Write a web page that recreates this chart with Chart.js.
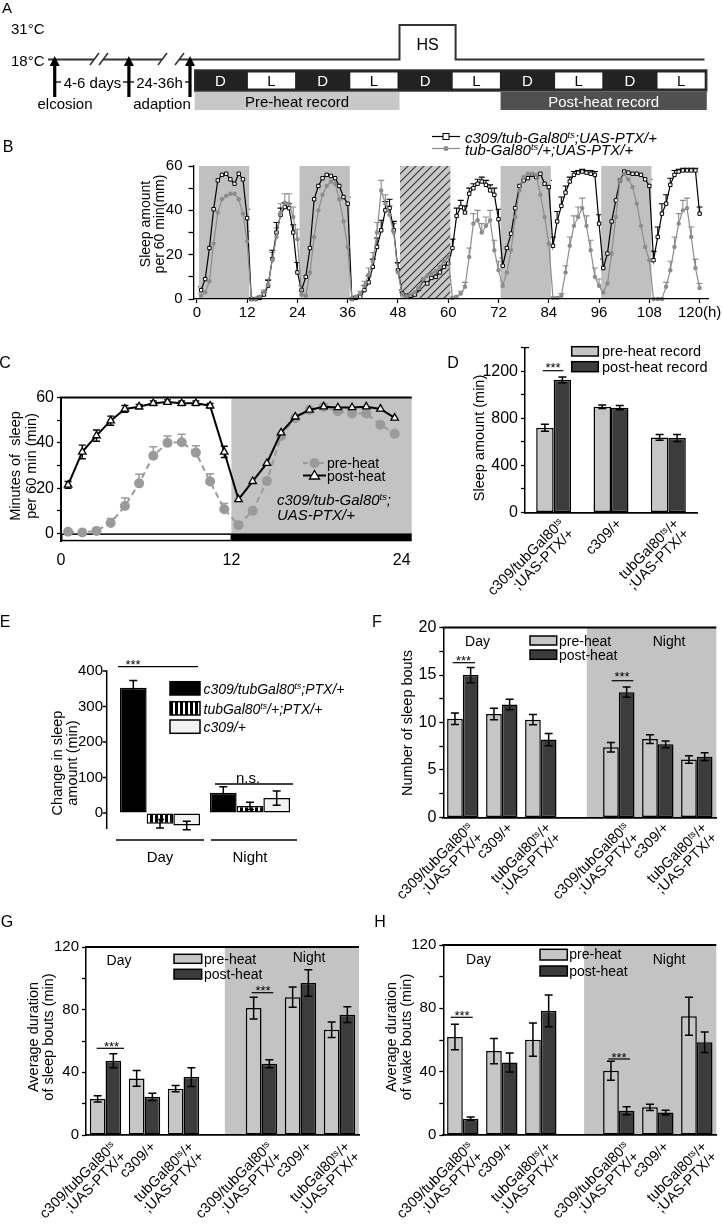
<!DOCTYPE html>
<html>
<head>
<meta charset="utf-8">
<title>Sleep figure</title>
<script src="https://cdn.jsdelivr.net/npm/chart.js@4.4.1/dist/chart.umd.min.js"></script>
<style>
html,body{margin:0;padding:0;background:#fff;}
#root{position:relative;width:723px;height:1230px;overflow:hidden;background:#fff;font-family:"Liberation Sans",Arial,Helvetica,sans-serif;color:#000;}
#root canvas{position:absolute;z-index:0;}
#ov{position:absolute;left:0;top:0;z-index:1;pointer-events:none;}
.t{position:absolute;white-space:nowrap;line-height:1;z-index:2;}
.t sup{font-size:0.62em;line-height:0;vertical-align:0;position:relative;top:-0.5em;}
</style>
</head>
<body>
<div id="root"></div>
<script>
// ================= DATA =================
// Panel B : hourly sleep over 120 h
const bHours = Array.from({length:120},(_,i)=>i+1);
const bC309PTX = [4,9,23,40.5,53.5,56,56.5,54,52,56.5,54,36.5,
 0,0,0.5,2,6,18,30,38,41.5,41,30,12,
 4,10,23,45,51,54.5,56,55.5,54.5,51,46,43,
 0,0.5,1,4,7.5,14.5,23.5,31,40,41,31,13,
 2.5,1.5,1.5,2,4.5,8.5,7,9.5,10,12,14.5,16,
 23,37.5,41.5,39,47.5,50,52,53,51.5,49,47,36,
 15,23,29.5,41,51,53.5,54.5,56,55,56.5,52,50.5,
 24,35,42,48,53,56,57,57.5,57,56.5,56,34,
 14,20.5,35,44.5,53.5,57.5,57,56.5,56.5,56,54,51,
 17.5,28,38.5,43,51.5,56,57.5,58,58,58,58,38.5];
const bC309PTXErr = [1.5,3,4.5,4,2.5,1.5,1.5,1.5,2,1.5,2,4,
 0.3,0.3,0.5,1,2.5,4,4.5,3,2,2,3.5,4.5,
 2,3,4.5,3.5,2.5,2,1.5,1.5,2,2.5,3,3,
 0.3,0.5,1,2,3,3.5,4,4.5,4,4,4,3.5,
 1.5,1,1,1.5,2,3,2.5,2.5,2.5,3,3,3.5,
 4,3.5,3,3,2.5,2,2,2,2,2.5,3,4.5,
 3.5,4,4.5,4,3,2,2,1.5,1.5,1.5,2.5,3,
 4,4.5,4,3,2,1.5,1,1,1,1.5,1.5,4,
 4,5,5,4,3,1.5,1.5,1.5,1.5,1.5,2,3,
 4,4.5,4.5,4,3,2,1,1,1,1,1,3];
const bTubPTX = [1.5,3,8,25,39,45,46.5,47.5,47.5,45,38.5,26,
 0,0,1,3,6.5,17.5,28,39,43.5,43,37,27,
 2,1.5,12,28,40,47,51,53,52,45,35,23.5,
 0,1,2.5,6,11,17,30,49,43,38,30,12,
 2,1,2,3,5,9,10.5,11.5,12.5,14.5,17,19,
 0.5,1,2.5,5.5,19,34,35.5,30,33,35.5,22,13,
 6,12,22,37,49,55,56.5,56.5,56,47,37,25,
 0.5,0.5,1.5,12,24,33,37,41,33,22,10,6,
 3,7,20.5,37,53.5,56.5,54,50.5,43,33,23.5,17.5,
 0,0,0,5.5,13,23.5,34,40,41,28,14,5];
const bTubPTXErr = [1,1.5,3,4,4,3.5,3,3,3,3.5,4,4.5,
 0.3,0.3,0.5,1,2,3.5,4,4,4,4.5,4.5,4.5,
 1.5,1,3,4,4,3.5,3,3,3,3.5,4,4.5,
 0.3,0.5,1,2,3,4,4.5,4.5,4,4,4,4,
 1,0.5,1,1.5,2,3,3,3,3,3.5,4,4,
 0.3,0.5,1,2,4,4.5,4.5,4,4,4.5,4.5,4,
 2,3,4,4.5,4,3,2.5,2.5,3,4,4.5,4.5,
 0.3,0.3,1,3,4,4.5,4.5,4.5,4.5,4.5,4,3,
 1.5,3,4.5,4.5,3.5,2.5,3,3.5,4,4.5,4.5,4.5,
 0.3,0.3,0.3,2,4,4.5,4.5,4.5,4.5,4.5,4,2];
const bDarkPeriods = [[0.5,12.5],[24.5,36.5],[72.5,84.5],[96.5,108.5]];
const bHeatPeriod = [48.5,60.5];
const bXTicks = [0,12,24,36,48,60,72,84,96,108,120];
const bYTicks = [0,10,20,30,40,50,60];
const bYLabels = [0,20,40,60];

// Panel C : 24 h profile of c309/tub-Gal80ts;UAS-PTX/+
const cHours = [0.5,1.5,2.5,3.5,4.5,5.5,6.5,7.5,8.5,9.5,10.5,11.5,12.5,13.5,14.5,15.5,16.5,17.5,18.5,19.5,20.5,21.5,22.5,23.5];
const cPreHeat = [0.7,0.4,1.1,4.6,12.1,22.1,34.3,40,40.3,35.7,22.9,10.7,3.6,10,23.1,43,51,54.5,56,54,53,53,48,44];
const cPreErr = [0.5,0.5,1,2,3.5,4,4,3,3.5,3,3.5,2.5,1.5,3,4,4,3,2.5,2.5,2,2,2.5,3,3];
const cPostHeat = [21.4,36,43.2,49.8,55,56,57.5,58,57.5,57.5,56.4,36,15,23,31,44.5,51.5,54.5,56,55.6,55.6,56,55,51];
const cPostErr = [1.5,3,2.5,2,1.5,1,1,1,1,1,1,2.5,2,3,3,2.5,2,1.5,1.5,1.5,1.5,1.5,1.5,2];
const cXTicks = [0,12,24];
const cYTicks = [0,10,20,30,40,50,60];
const cYLabels = [0,20,40,60];

// Genotype labels
const genotypes = ['c309/tubGal80<sup>ts</sup><br>;UAS-PTX/+','c309/+','tubGal80<sup>ts</sup>/+<br>;UAS-PTX/+'];

// Panel D : total sleep
const dPre = [719,898,637];
const dPreErr = [30,15,25];
const dPost = [1126,890,632];
const dPostErr = [25,18,30];
const dYTicks = [0,200,400,600,800,1000,1200,1400];
const dYLabels = [0,400,800,1200];

// Panel E : change in sleep amount
const ePeriods = ['Day','Night'];
const eC309PTX = [353,57];
const eC309PTXErr = [20,17];
const eTubPTX = [-30,20];
const eTubPTXErr = [12,10];
const eC309 = [-35,42];
const eC309Err = [12,20];
const eYTicks = [0,100,200,300,400];

// Panels F, G, H : day groups, gap, night groups
const fghGroups = [genotypes[0],genotypes[1],genotypes[2],'',genotypes[0],genotypes[1],genotypes[2]];
const fPre = [10.4,10.9,10.3,null,7.4,8.25,6.1];
const fPreErr = [0.6,0.6,0.55,null,0.5,0.45,0.4];
const fPost = [15.0,11.9,8.2,null,13.2,7.7,6.4];
const fPostErr = [0.8,0.55,0.65,null,0.55,0.35,0.4];
const fYTicks = [0,2.5,5,7.5,10,12.5,15,17.5,20];
const fYLabels = [0,5,10,15,20];

const gPre = [23,36.1,29.6,null,81,88,67.2];
const gPreErr = [2,5,2,null,7,6.5,5];
const gPost = [47.4,24.4,37,null,45.5,97,76.8];
const gPostErr = [4.5,2.3,6,null,2.5,8.5,5];

const hPre = [61.9,53,60.2,null,40.6,17.5,75];
const hPreErr = [8,8,10.5,null,6,2,12];
const hPost = [10.3,45.8,78.4,null,15.3,14.2,58.6];
const hPostErr = [1,6,10,null,2.5,1.5,6.5];
const ghYTicks = [0,20,40,60,80,100,120];
const ghYLabels = [0,40,80,120];

// ================= HELPERS =================
const FONT = '"Liberation Sans", Arial, Helvetica, sans-serif';
Chart.defaults.font.family = FONT;
Chart.defaults.color = '#000';
const PRE = '#c6c6c6', POST = '#3c3c3c', SHADE = '#c3c3c3';
const root = document.getElementById('root');
const ov = [];

function txt(html,x,y,o={}){
  const d=document.createElement('div'); d.className='t'; d.innerHTML=html;
  d.style.fontSize=(o.size||15)+'px';
  if(o.italic) d.style.fontStyle='italic';
  if(o.color) d.style.color=o.color;
  if(o.lh) d.style.lineHeight=o.lh+'px';
  d.style.textAlign=o.align||'center';
  d.style.left=x+'px'; d.style.top=y+'px';
  const ax=(o.ax===undefined?0.5:o.ax), ay=(o.ay===undefined?0.5:o.ay);
  d.style.transform=`translate(${-ax*100}%,${-ay*100}%)`+(o.rot?` rotate(${o.rot}deg)`:'');
  root.appendChild(d); return d;
}
function xlab(html,x,y,size){
  const d=document.createElement('div'); d.className='t'; d.innerHTML=html;
  d.style.fontSize=size+'px'; d.style.lineHeight=(size-0.5)+'px'; d.style.textAlign='right';
  d.style.right=(723-x)+'px'; d.style.top=y+'px';
  d.style.transformOrigin='100% 0'; d.style.transform='rotate(-45deg)';
  root.appendChild(d); return d;
}
function L(x1,y1,x2,y2,c='#000',w=1.5,dash=''){ov.push(`<line x1="${x1}" y1="${y1}" x2="${x2}" y2="${y2}" stroke="${c}" stroke-width="${w}"${dash?` stroke-dasharray="${dash}"`:''}/>`);}
function R(x,y,w,h,fill,stroke='#000',sw=1.5){ov.push(`<rect x="${x}" y="${y}" width="${w}" height="${h}" fill="${fill}" stroke="${stroke}" stroke-width="${sw}"/>`);}
function Ci(cx,cy,r,fill,stroke='none',sw=0){ov.push(`<circle cx="${cx}" cy="${cy}" r="${r}" fill="${fill}" stroke="${stroke}" stroke-width="${sw}"/>`);}
function P(pts,fill,stroke='none',sw=0){ov.push(`<polygon points="${pts}" fill="${fill}" stroke="${stroke}" stroke-width="${sw}"/>`);}

// error bar plugin
function drawErr(chart){
  const ctx=chart.ctx, ys=chart.scales.y;
  chart.data.datasets.forEach((ds,di)=>{
    if(!ds.err) return;
    const meta=chart.getDatasetMeta(di);
    ctx.save(); ctx.strokeStyle=ds.errColor||'#000'; ctx.lineWidth=ds.errWidth||1.5;
    meta.data.forEach((el,i)=>{
      const raw=ds.data[i]; const val=(raw&&typeof raw==='object')?raw.y:raw; const e=ds.err[i];
      if(val==null||e==null) return;
      const x=el.x, cw=ds.capW||4;
      const sgn = val<0?-1:1;
      const yTop=ys.getPixelForValue(val+sgn*e), yBot=ys.getPixelForValue(ds.errUp?val:val-sgn*e);
      ctx.beginPath(); ctx.moveTo(x,yTop); ctx.lineTo(x,yBot);
      ctx.moveTo(x-cw,yTop); ctx.lineTo(x+cw,yTop);
      if(!ds.errUp){ctx.moveTo(x-cw,yBot); ctx.lineTo(x+cw,yBot);}
      ctx.stroke();
    });
    ctx.restore();
  });
}
Chart.register({id:'errbars',
  beforeDatasetsDraw(c){ if(c.config.type==='line') drawErr(c); },
  afterDatasetsDraw(c){ if(c.config.type!=='line') drawErr(c); }
});

function mk(box,area,cfg){
  const c=document.createElement('canvas');
  c.width=box[2]; c.height=box[3];
  c.style.left=box[0]+'px'; c.style.top=box[1]+'px';
  c.style.width=box[2]+'px'; c.style.height=box[3]+'px';
  root.appendChild(c);
  cfg.options=cfg.options||{};
  Object.assign(cfg.options,{responsive:false,maintainAspectRatio:false,animation:false,devicePixelRatio:1});
  cfg.options.layout={padding:{left:0,top:area.t-box[1],right:box[0]+box[2]-area.r,bottom:0}};
  const sc=cfg.options.scales;
  const yw=area.l-box[0], xh=box[1]+box[3]-area.b;
  sc.y.afterFit=s=>{s.width=yw;};
  sc.x.afterFit=s=>{s.height=xh;};
  cfg.options.plugins=Object.assign({legend:{display:false},tooltip:{enabled:false}},cfg.options.plugins||{});
  const ch=new Chart(c.getContext('2d'),cfg);
  ch._box=box;
  return ch;
}
function yAx(min,max,ticks,labels,size,o={}){
  return {min,max,
    afterBuildTicks:ax=>{ax.ticks=ticks.map(v=>({value:v}));},
    ticks:{font:{size},color:'#000',padding:(o.pad===undefined?3:o.pad),autoSkip:false,callback:v=>labels.includes(v)?String(v):''},
    grid:{drawOnChartArea:false,drawTicks:(o.noTicks?false:true),tickLength:(o.tl===undefined?4:o.tl),tickColor:'#000',tickWidth:1.3},
    border:{display:(o.noBorder?false:true),color:'#000',width:(o.bw||1.5),z:1}};
}
function xBar(){
  return {ticks:{display:false},grid:{display:true,drawOnChartArea:false,drawTicks:false},border:{display:true,color:'#000',width:1.8,z:1}};
}
function barDs(data,err,fill,cp){
  return {data,err,backgroundColor:fill,borderColor:'#000',borderWidth:1.5,borderSkipped:false,categoryPercentage:cp,barPercentage:1,capW:4};
}
function topLine(){
  return {id:'topline',afterDraw(c){const {ctx,chartArea:a}=c;ctx.save();ctx.strokeStyle='#000';ctx.lineWidth=2;ctx.beginPath();ctx.moveTo(a.left-1,a.top);ctx.lineTo(a.right,a.top);ctx.stroke();ctx.restore();}};
}
function nightPlugin(start){
  return {id:'night',beforeDatasetsDraw(c){
    const {ctx,chartArea:a,scales:{x}}=c;
    const p0=x.getPixelForValue(0), p1=x.getPixelForValue(1);
    const xs=p0+start*(p1-p0);
    ctx.save(); ctx.fillStyle=SHADE; ctx.fillRect(xs,a.top,a.right-xs,a.bottom-a.top); ctx.restore();
  }};
}
function groupLabels(chart,labels,dy,size){
  const x=chart.scales.x, bx=chart._box;
  labels.forEach((lab,i)=>{ if(!lab) return;
    xlab(lab, bx[0]+x.getPixelForValue(i)+3, chart.chartArea.bottom+bx[1]+dy, size); });
}

// ================= PANEL A (schematic) =================
const A=[];
A.push(`<text x="2" y="13" font-size="15">A</text>`);
A.push(`<text x="11" y="33.5" font-size="15">31°C</text>`);
A.push(`<text x="11" y="65.5" font-size="15">18°C</text>`);
A.push(`<polyline points="48,59.5 399.5,59.5 399.5,25 455.6,25 455.6,59.5 704.5,59.5" fill="none" stroke="#333" stroke-width="2"/>`);
A.push(`<text x="427.5" y="50" font-size="16" text-anchor="middle">HS</text>`);
[[90,99],[158,175]].forEach(([s1,s2])=>{
  A.push(`<rect x="${s1+4}" y="55" width="${s2-s1}" height="9" fill="#fff"/>`);
  A.push(`<line x1="${s1}" y1="65" x2="${s1+9}" y2="53" stroke="#333" stroke-width="1.5"/>`);
  A.push(`<line x1="${s2}" y1="65" x2="${s2+9}" y2="53" stroke="#333" stroke-width="1.5"/>`);
});
[54.7,128.9,190].forEach(x=>{
  A.push(`<rect x="${x-1.6}" y="63" width="3.2" height="34" fill="#000"/>`);
  A.push(`<polygon points="${x-5},66 ${x},56 ${x+5},66" fill="#000"/>`);
});
A.push(`<line x1="56" y1="82" x2="61" y2="82" stroke="#000" stroke-width="1.3"/>`);
A.push(`<line x1="123" y1="82" x2="128" y2="82" stroke="#000" stroke-width="1.3"/>`);
A.push(`<line x1="130" y1="82" x2="134" y2="82" stroke="#000" stroke-width="1.3"/>`);
A.push(`<line x1="185" y1="82" x2="189" y2="82" stroke="#000" stroke-width="1.3"/>`);
A.push(`<text x="92.5" y="87.5" font-size="15" text-anchor="middle">4-6 days</text>`);
A.push(`<text x="159.5" y="87.5" font-size="15" text-anchor="middle">24-36h</text>`);
A.push(`<text x="65" y="108.5" font-size="15" text-anchor="middle">elcosion</text>`);
A.push(`<text x="162" y="108.5" font-size="15" text-anchor="middle">adaption</text>`);
const aCells=['D','L','D','L','D','L','D','L','D','L'];
A.push(`<rect x="194.7" y="70" width="512" height="21" fill="#222" stroke="#333" stroke-width="1.5"/>`);
aCells.forEach((c,i)=>{
  const x=194.7+i*51.2;
  if(c==='L') A.push(`<rect x="${x+2}" y="72.5" width="${51.2-4}" height="16" fill="#fff"/>`);
  A.push(`<text x="${x+25.6}" y="86" font-size="15" text-anchor="middle" fill="${c==='D'?'#fff':'#000'}">${c}</text>`);
});
A.push(`<rect x="194.7" y="92" width="204.8" height="18" fill="#c8c8c8"/>`);
A.push(`<text x="297" y="106.5" font-size="15" text-anchor="middle">Pre-heat record</text>`);
A.push(`<rect x="500.6" y="92" width="206.2" height="18" fill="#505050"/>`);
A.push(`<text x="603.7" y="106.5" font-size="15" text-anchor="middle" fill="#fff">Post-heat record</text>`);

// ================= PANEL B =================
function hatchPattern(ctx){
  const t=document.createElement('canvas'); t.width=8; t.height=8; const g=t.getContext('2d');
  g.fillStyle='#c8c8c8'; g.fillRect(0,0,8,8);
  g.strokeStyle='#333'; g.lineWidth=1.1;
  g.beginPath(); g.moveTo(0,8); g.lineTo(8,0); g.moveTo(-1,1); g.lineTo(1,-1); g.moveTo(7,9); g.lineTo(9,7); g.stroke();
  return ctx.createPattern(t,'repeat');
}
const bChart = mk([120,150,603,175],{l:193.5,t:166,r:708,b:299},{
  type:'line',
  data:{datasets:[
    {data:bHours.map((h,i)=>({x:h,y:bTubPTX[i]})),err:bTubPTXErr,errUp:true,errColor:'#8c8c8c',capW:3,errWidth:1.1,
     borderColor:'#8c8c8c',borderWidth:1.2,pointRadius:2.2,pointBackgroundColor:'#8c8c8c',pointBorderWidth:0,tension:0,clip:false},
    {data:bHours.map((h,i)=>({x:h,y:bC309PTX[i]})),err:bC309PTXErr,errUp:true,errColor:'#000',capW:3,errWidth:1.1,
     borderColor:'#000',borderWidth:1.2,pointStyle:'rect',pointRadius:2.4,pointBackgroundColor:'#fff',pointBorderColor:'#000',pointBorderWidth:1,tension:0,clip:false}
  ]},
  options:{scales:{
    x:{type:'linear',min:-0.8,max:122,afterBuildTicks:ax=>{ax.ticks=bXTicks.map(v=>({value:v}));},
       ticks:{font:{size:15},padding:1,maxRotation:0,autoSkip:false,callback:v=>v===120?'120(h)':String(v)},
       grid:{drawOnChartArea:false,tickLength:4,tickColor:'#000',tickWidth:1.2},border:{color:'#000',width:1.3,z:1}},
    y:yAx(0,60,bYTicks,bYLabels,15,{tl:5,pad:6,bw:1.3})
  }},
  plugins:[{id:'bshade',beforeDatasetsDraw(c){
    const {ctx,chartArea:a,scales:{x}}=c; ctx.save(); ctx.fillStyle='#c0c0c0';
    bDarkPeriods.forEach(([s,e])=>{const x0=x.getPixelForValue(s),x1=x.getPixelForValue(e);ctx.fillRect(x0,a.top,x1-x0,a.bottom-a.top);});
    const h0=x.getPixelForValue(bHeatPeriod[0]),h1=x.getPixelForValue(bHeatPeriod[1]);
    ctx.fillStyle=hatchPattern(ctx); ctx.fillRect(h0,a.top,h1-h0,a.bottom-a.top); ctx.restore();
  }}]
});
txt('B',8,147,{size:16});
txt('Sleep amount<br>per 60 min(mm)',152,224,{size:14,lh:14,rot:-90});
L(432,136.5,460,136.5,'#000',1.2); R(443,133.5,6,6,'#fff','#000',1);
L(432,148.5,460,148.5,'#8c8c8c',1.2); Ci(446,148.5,2.5,'#8c8c8c');
txt('c309/tub-Gal80<sup>ts</sup>;UAS-PTX/+',465,136.5,{size:15,italic:true,ax:0});
txt('tub-Gal80<sup>ts</sup>/+;UAS-PTX/+',465,149,{size:15,italic:true,ax:0});

// ================= PANEL C =================
const cChart = mk([0,385,420,182],{l:61,t:396,r:411.7,b:541.3},{
  type:'line',
  data:{datasets:[
    {data:cHours.map((h,i)=>({x:h,y:cPostHeat[i]})),err:cPostErr,errColor:'#000',capW:3.5,errWidth:1.4,
     borderColor:'#000',borderWidth:2,pointStyle:'triangle',pointRadius:4.3,pointBackgroundColor:'#fff',pointBorderColor:'#000',pointBorderWidth:1.3,tension:0,clip:false},
    {data:cHours.map((h,i)=>({x:h,y:cPreHeat[i]})),err:cPreErr,errUp:true,errColor:'#9a9a9a',capW:4,errWidth:1.5,
     borderColor:'#9a9a9a',borderWidth:2,borderDash:[6,4],pointRadius:5,pointBackgroundColor:'#9a9a9a',pointBorderWidth:0,tension:0,clip:false}
  ]},
  options:{scales:{
    x:{type:'linear',min:0,max:24.7,afterBuildTicks:ax=>{ax.ticks=cXTicks.map(v=>({value:v}));},
       ticks:{font:{size:16},padding:2,maxRotation:0,autoSkip:false},grid:{display:false},border:{display:false}},
    y:yAx(-3.5,60,cYTicks,cYLabels,16,{bw:2})
  }},
  plugins:[{id:'cdeco',beforeDatasetsDraw(c){
    const {ctx,chartArea:a,scales:{x,y}}=c; ctx.save();
    const x12=x.getPixelForValue(12), x0=x.getPixelForValue(0), y0=y.getPixelForValue(0), yb=y.getPixelForValue(-3.5);
    ctx.fillStyle=SHADE; ctx.fillRect(x12,a.top,a.right-x12,y0-a.top);
    ctx.fillStyle='#fff'; ctx.fillRect(x0,y0,x12-x0,yb-y0);
    ctx.strokeStyle='#000'; ctx.lineWidth=1.5; ctx.strokeRect(x0+0.75,y0+0.75,x12-x0-0.75,yb-y0-1.5);
    ctx.fillStyle='#000'; ctx.fillRect(x12,y0,a.right-x12,yb-y0);
    ctx.restore();
  }},topLine()]
});
txt('C',5,363,{size:16});
txt('Minutes of &nbsp;sleep<br>per 60 min (min)',23,466,{size:14.5,lh:16,rot:-90});
L(303,463,326,463,'#9a9a9a',2,'5,3'); Ci(314.5,463,5,'#9a9a9a');
L(303,475.5,326,475.5,'#000',2); P('314.5,470.5 319.5,479 309.5,479','#fff','#000',1.3);
txt('pre-heat',327,463,{size:14,ax:0});
txt('post-heat',327,476,{size:14,ax:0});
txt('c309/tub-Gal80<sup>ts</sup>;<br>UAS-PTX/+',277,507,{size:15,italic:true,lh:15,ax:0,align:'left'});

// ================= PANEL D =================
const dChart = mk([440,335,283,190],{l:525,t:345.9,r:697,b:514},{
  type:'bar',
  data:{labels:genotypes.map(()=>''),datasets:[barDs(dPre,dPreErr,PRE,0.61),barDs(dPost,dPostErr,POST,0.61)]},
  options:{scales:{x:xBar(),y:yAx(0,1400,dYTicks,dYLabels,16)}},
  plugins:[{id:'dtop',afterDraw(c){const {ctx,chartArea:a}=c;ctx.save();ctx.strokeStyle='#000';ctx.lineWidth=1.3;ctx.beginPath();ctx.moveTo(a.left,a.top);ctx.lineTo(a.left+4,a.top);ctx.stroke();ctx.restore();}}]
});
groupLabels(dChart,genotypes,4,14.5);
txt('D',453,363,{size:16});
txt('Sleep amount (min)',479,438,{size:14.5,rot:-90});
R(571.7,346.7,26.6,9.3,PRE); R(571.7,361.7,26.6,10,POST);
txt('pre-heat record',602,351,{size:14.5,ax:0});
txt('post-heat record',602,366.5,{size:14.5,ax:0});
L(542.7,370.7,563.3,370.7,'#000',1.2); txt('***',553,367,{size:13});

// ================= PANEL E =================
function stripePattern(){
  const t=document.createElement('canvas'); t.width=5; t.height=5; const g=t.getContext('2d');
  g.fillStyle='#fff'; g.fillRect(0,0,5,5); g.fillStyle='#000'; g.fillRect(0,0,3,5);
  return document.createElement('canvas').getContext('2d').createPattern(t,'repeat');
}
const eAxisGap = 8.3;
const eChart = mk([30,650,300,200],{l:115,t:660,r:295,b:839},{
  type:'bar',
  data:{labels:ePeriods,datasets:[
    barDs(eC309PTX,eC309PTXErr,'#000',0.89),
    barDs(eTubPTX,eTubPTXErr,stripePattern(),0.89),
    barDs(eC309,eC309Err,'#f2f2f2',0.89)
  ]},
  options:{scales:{
    x:{ticks:{display:false},grid:{display:false},border:{display:false}},
    y:yAx(-45,400,eYTicks,eYTicks,15,{pad:12,noTicks:true,noBorder:true})
  }},
  plugins:[{id:'eaxis',afterDraw(c){
    const {ctx,chartArea:a,scales:{y}}=c; const xa=a.left-eAxisGap;
    ctx.save(); ctx.strokeStyle='#000'; ctx.lineWidth=1.5; ctx.beginPath();
    ctx.moveTo(xa,y.getPixelForValue(400)-0.7); ctx.lineTo(xa,a.bottom);
    eYTicks.forEach(v=>{const yy=y.getPixelForValue(v); ctx.moveTo(xa-4,yy); ctx.lineTo(xa,yy);});
    ctx.stroke(); ctx.restore();
  }}]
});
txt('E',5,622,{size:16});
txt('Change in sleep<br>amount (min)',64,763,{size:14.5,lh:14.5,rot:-90});
L(118,666.7,198,666.7,'#000',1.3); txt('***',133,664,{size:13});
L(215,784,293,784,'#000',1.3); txt('n.s.',248,777,{size:15});
R(170,681.7,30,13.3,'#000'); R(170,701.7,30,13.3,'url(#st)'); R(170,720,30,13.3,'#f2f2f2');
txt('c309/tubGal80<sup>ts</sup>;PTX/+',203.5,688.5,{size:14,italic:true,ax:0});
txt('tubGal80<sup>ts</sup>/+;PTX/+',203.5,708.5,{size:14,italic:true,ax:0});
txt('c309/+',203.5,727,{size:14,italic:true,ax:0});
L(116,840,204,840,'#000',1.5); L(211,840,297,840,'#000',1.5);
ePeriods.forEach((p,i)=>{ txt(p, eChart._box[0]+eChart.scales.x.getPixelForValue(i), 856,{size:15}); });

// ================= PANEL F =================
const fChart = mk([380,615,343,215],{l:443.3,t:626,r:716.3,b:820},{
  type:'bar',
  data:{labels:fghGroups.map(()=>''),datasets:[barDs(fPre,fPreErr,PRE,0.805),barDs(fPost,fPostErr,POST,0.805)]},
  options:{scales:{x:xBar(),y:yAx(0,20,fYTicks,fYLabels,16)}},
  plugins:[nightPlugin(3.18),topLine()]
});
groupLabels(fChart,fghGroups,3,14.5);
txt('F',377,622,{size:16});
txt('Number of sleep bouts',407,723,{size:14.5,rot:-90});
txt('Day',477.5,641,{size:14}); txt('Night',669,641,{size:14});
R(530,636,26.7,9,PRE); R(530,650,26.7,9.3,POST);
txt('pre-heat',559,640.5,{size:14,ax:0}); txt('post-heat',559,654.5,{size:14,ax:0});
L(452.7,662.7,475,662.7,'#000',1.2); txt('***',463.5,660,{size:13});
L(611.7,680.7,633.3,680.7,'#000',1.2); txt('***',622,676,{size:13});

// ================= PANEL G =================
const gChart = mk([40,935,330,212],{l:86,t:945,r:359,b:1136.7},{
  type:'bar',
  data:{labels:fghGroups.map(()=>''),datasets:[barDs(gPre,gPreErr,PRE,0.805),barDs(gPost,gPostErr,POST,0.805)]},
  options:{scales:{x:xBar(),y:yAx(0,120,ghYTicks,ghYLabels,15)}},
  plugins:[nightPlugin(3.06),topLine()]
});
groupLabels(gChart,fghGroups,4,14.5);
txt('G',7,922,{size:16});
txt('Average duration<br>of sleep bouts (min)',41,1037,{size:14.5,lh:15,rot:-90});
txt('Day',119,960,{size:14}); txt('Night',309,957,{size:14});
R(174,954.3,27.7,9,PRE); R(174,969.3,27.7,9.7,POST);
txt('pre-heat',204,958.7,{size:14,ax:0}); txt('post-heat',204,974.3,{size:14,ax:0});
L(96.7,1048.3,124,1048.3,'#000',1.2); txt('***',111.5,1046,{size:13});
L(251.7,992.7,273.3,992.7,'#000',1.2); txt('***',263,990,{size:13});

// ================= PANEL H =================
const hChart = mk([380,933,343,214],{l:443.3,t:943.3,r:716.3,b:1137.3},{
  type:'bar',
  data:{labels:fghGroups.map(()=>''),datasets:[barDs(hPre,hPreErr,PRE,0.805),barDs(hPost,hPostErr,POST,0.805)]},
  options:{scales:{x:xBar(),y:yAx(0,120,ghYTicks,ghYLabels,15)}},
  plugins:[nightPlugin(3.11),topLine()]
});
groupLabels(hChart,fghGroups,4,14.5);
txt('H',380,922,{size:16});
txt('Average duration<br>of wake bouts (min)',399,1037,{size:14.5,lh:15,rot:-90});
txt('Day',478.5,959.3,{size:14}); txt('Night',669,959.3,{size:14});
R(540,949.3,27.3,10.7,PRE); R(540,966,27.3,10,POST);
txt('pre-heat',569.3,954.3,{size:14,ax:0}); txt('post-heat',569.3,971,{size:14,ax:0});
L(450.7,1017.3,472.7,1017.3,'#000',1.2); txt('***',462,1015,{size:13});
L(608.3,1059,630,1059,'#000',1.2); txt('***',619,1056.5,{size:13});

// overlay svg
root.insertAdjacentHTML('beforeend',`<svg id="ov" xmlns="http://www.w3.org/2000/svg" width="723" height="1230" font-family='${FONT}'><defs><pattern id="st" width="5" height="5" patternUnits="userSpaceOnUse"><rect width="5" height="5" fill="#fff"/><rect width="3" height="5" fill="#000"/></pattern></defs>${A.join('')}${ov.join('')}</svg>`);
</script>
</body>
</html>
